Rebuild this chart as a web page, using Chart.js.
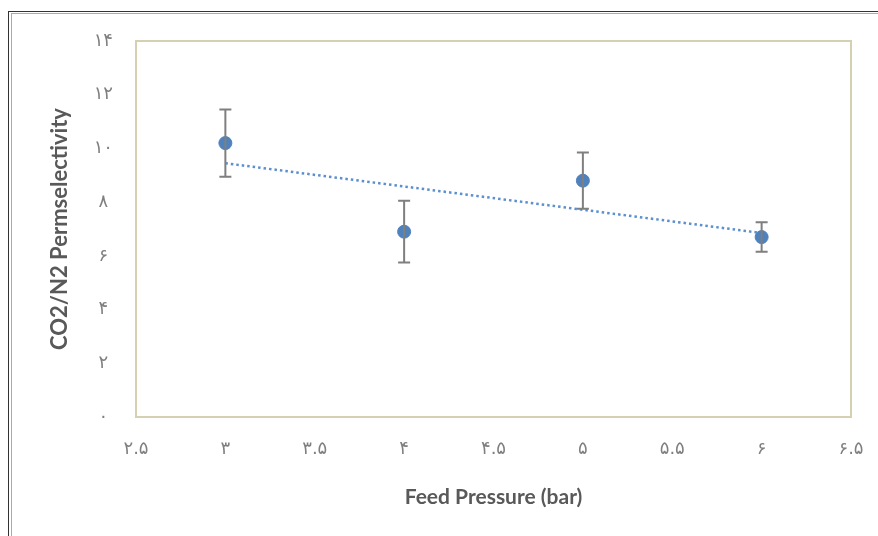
<!DOCTYPE html>
<html>
<head>
<meta charset="utf-8">
<script src="https://cdn.jsdelivr.net/npm/chart.js@4"></script>
<style>
  html, body { margin: 0; padding: 0; background: #fff; }
  #wrap { position: relative; width: 878px; height: 536px; overflow: hidden; }
  #frameOuter { position: absolute; left: 8px; top: 11px; width: 900px; height: 600px; border-left: 1px solid #333; border-top: 1px solid #333; }
  #frameInner { position: absolute; left: 11px; top: 13px; width: 900px; height: 600px; border-left: 1px solid #aaa; border-top: 1px solid #aaa; }
  canvas { position: absolute; left: 0; top: 0; }
</style>
</head>
<body>
<div id="wrap">
  <div id="frameOuter"></div>
  <div id="frameInner"></div>
  <canvas id="chart" width="878" height="536"></canvas>
</div>
<script>
const pressures = [3, 4, 5, 6];
const selectivity = [10.2, 6.9, 8.8, 6.7];
const errors = [1.25, 1.15, 1.05, 0.55];
const trendX = [3, 6];
const trendY = [9.45, 6.85];
const xTickLabels = ['۲.۵', '۳', '۳.۵', '۴', '۴.۵', '۵', '۵.۵', '۶', '۶.۵'];
const yTickLabels = ['۰', '۲', '۴', '۶', '۸', '۱۰', '۱۲', '۱۴'];

const errorBars = {
    id: 'errorBars',
    afterDatasetsDraw(chart) {
        const ctx = chart.ctx;
        const xs = chart.scales.x, ys = chart.scales.y;
        ctx.save();
        ctx.strokeStyle = '#7f7f7f';
        ctx.lineWidth = 2;
        pressures.forEach((p, i) => {
            const x = xs.getPixelForValue(p);
            const top = ys.getPixelForValue(selectivity[i] + errors[i]);
            const bottom = ys.getPixelForValue(selectivity[i] - errors[i]);
            ctx.beginPath();
            ctx.moveTo(x, top); ctx.lineTo(x, bottom);
            ctx.moveTo(x - 6, top); ctx.lineTo(x + 6, top);
            ctx.moveTo(x - 6, bottom); ctx.lineTo(x + 6, bottom);
            ctx.stroke();
        });
        ctx.restore();
    }
};

const plotBorder = {
    id: 'plotBorder',
    beforeDatasetsDraw(chart) {
        const a = chart.chartArea, ctx = chart.ctx;
        ctx.save();
        ctx.strokeStyle = '#d6d0b2';
        ctx.lineWidth = 2;
        ctx.strokeRect(a.left, a.top, a.right - a.left, a.bottom - a.top);
        ctx.restore();
    }
};

new Chart(document.getElementById('chart').getContext('2d'), {
    type: 'scatter',
    data: {
        datasets: [{
            data: pressures.map((p, i) => ({ x: p, y: selectivity[i] })),
            backgroundColor: '#4f81bd',
            borderColor: '#4f81bd',
            pointRadius: 6.5,
            pointHoverRadius: 6.5,
            order: 1
        }, {
            type: 'line',
            data: trendX.map((p, i) => ({ x: p, y: trendY[i] })),
            borderColor: '#5b8fcf',
            borderWidth: 2.5,
            borderDash: [2.5, 3],
            pointRadius: 0,
            fill: false,
            order: 2
        }]
    },
    options: {
        responsive: false,
        animation: false,
        events: [],
        layout: { padding: { left: 47, right: 27, top: 41, bottom: 26 } },
        plugins: { legend: { display: false }, tooltip: { enabled: false } },
        scales: {
            x: {
                type: 'linear',
                min: 2.5, max: 6.5,
                grid: { display: false, drawTicks: false },
                border: { display: false },
                ticks: {
                    stepSize: 0.5,
                    padding: 22,
                    color: '#7f7f7f',
                    font: { family: 'DejaVu Sans', size: 18 },
                    callback: (v, i) => xTickLabels[i]
                },
                title: {
                    display: true,
                    text: 'Feed Pressure (bar)',
                    color: '#595959',
                    font: { family: 'Lato', size: 21, weight: 'bold' },
                    padding: 0
                },
                afterFit(scale) {
                    scale.height = 93;
                    scale.paddingLeft = 0;
                    scale.paddingRight = 0;
                }
            },
            y: {
                min: 0, max: 14,
                grid: { display: false, drawTicks: false },
                border: { display: false },
                ticks: {
                    stepSize: 2,
                    padding: 23,
                    crossAlign: 'center',
                    color: '#7f7f7f',
                    font: { family: 'DejaVu Sans', size: 18 },
                    callback: (v, i) => yTickLabels[i]
                },
                title: {
                    display: true,
                    text: 'CO2/N2 Permselectivity',
                    color: '#595959',
                    font: { family: 'Lato', size: 22, weight: 'bold' },
                    padding: 0
                },
                afterFit(scale) {
                    scale.width = 89;
                    scale.paddingTop = 0;
                    scale.paddingBottom = 0;
                }
            }
        }
    },
    plugins: [plotBorder, errorBars]
});
</script>
</body>
</html>
